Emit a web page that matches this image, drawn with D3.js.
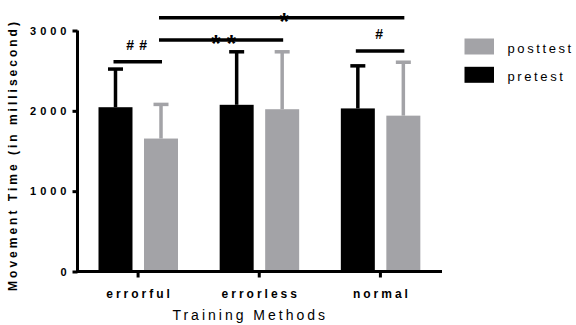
<!DOCTYPE html>
<html>
<head>
<meta charset="utf-8">
<script src="https://cdn.jsdelivr.net/npm/d3@7/dist/d3.min.js"></script>
<style>
  html, body { margin: 0; padding: 0; background: #fff; }
  svg { display: block; font-family: "Liberation Sans", Arial, sans-serif; }
</style>
</head>
<body>
<svg id="chart" width="576" height="325"></svg>
<script>
// ---- data ----
const categories = ["errorful", "errorless", "normal"];
const seriesNames = ["pretest", "posttest"];
const pretestMean = [2045, 2075, 2030];
const posttestMean = [1655, 2020, 1940];
const pretestSD = [475, 660, 530];
const posttestSD = [425, 715, 665];
const yTicks = [0, 1000, 2000, 3000];
const legendOrder = ["posttest", "pretest"];
// significance annotations: label, from [category, series], to [category, series], level (ms)
const sigLabels = ["##", "**", "*", "#"];
const sigFrom = [["errorful", "pretest"], ["errorful", "posttest"], ["errorful", "posttest"], ["normal", "pretest"]];
const sigTo = [["errorful", "posttest"], ["errorless", "posttest"], ["normal", "posttest"], ["normal", "posttest"]];
const sigLevel = [2610, 2883, 3160, 2745];

const colors = { pretest: "#000000", posttest: "#a3a3a7" };

const svg = d3.select("#chart");
const x0 = 77.5, x1 = 441, yBottom = 271.5, yTop = 30.5;

const x = d3.scaleBand().domain(categories).range([x0, x1]).paddingInner(0).paddingOuter(0);
const xs = d3.scaleBand().domain(seriesNames).range([21, 100.5]).paddingInner(0.253).paddingOuter(0);
const y = d3.scaleLinear().domain([0, 3000]).range([yBottom, yTop]);

const rows = [];
categories.forEach((c, i) => {
  rows.push({ cat: c, s: "pretest", mean: pretestMean[i], sd: pretestSD[i] });
  rows.push({ cat: c, s: "posttest", mean: posttestMean[i], sd: posttestSD[i] });
});
const cx = (c, s) => x(c) + xs(s) + xs.bandwidth() / 2;

// bars
svg.append("g").selectAll("rect").data(rows).join("rect")
  .attr("x", d => x(d.cat) + xs(d.s))
  .attr("y", d => y(d.mean))
  .attr("width", xs.bandwidth())
  .attr("height", d => y(0) - y(d.mean))
  .attr("fill", d => colors[d.s]);

// error bars (upper only)
const eb = svg.append("g").selectAll("g").data(rows).join("g")
  .attr("stroke", d => colors[d.s]);
eb.append("line")
  .attr("x1", d => cx(d.cat, d.s)).attr("x2", d => cx(d.cat, d.s))
  .attr("y1", d => y(d.mean)).attr("y2", d => y(d.mean + d.sd))
  .attr("stroke-width", 3.5);
eb.append("line")
  .attr("x1", d => cx(d.cat, d.s) - 7.5).attr("x2", d => cx(d.cat, d.s) + 7.5)
  .attr("y1", d => y(d.mean + d.sd)).attr("y2", d => y(d.mean + d.sd))
  .attr("stroke-width", 3.5);

// y axis
const yAxis = svg.append("g").attr("transform", `translate(${x0},0)`)
  .call(d3.axisLeft(y).tickValues(yTicks).tickSize(5).tickPadding(2).tickFormat(d3.format("d")));
yAxis.select(".domain").attr("d", `M0,${yBottom + 1.5}V${yTop}`).attr("stroke-width", 3);
yAxis.selectAll(".tick line").attr("stroke-width", 3);
yAxis.selectAll(".tick text")
  .attr("font-size", 11).attr("font-weight", "bold").attr("fill", "#000")
  .style("letter-spacing", "4px").attr("font-family", "Liberation Sans, Arial, sans-serif");

// x axis
const xAxis = svg.append("g").attr("transform", `translate(0,${yBottom})`)
  .call(d3.axisBottom(x).tickSize(6).tickPadding(12));
xAxis.select(".domain").attr("d", `M${x0 - 1.5},0H${x1 + 1}`).attr("stroke-width", 3);
xAxis.selectAll(".tick line").attr("stroke-width", 3);
xAxis.selectAll(".tick text")
  .attr("font-size", 12).attr("font-weight", "bold").attr("fill", "#000")
  .attr("dx", 1.5)
  .style("letter-spacing", "3px").attr("font-family", "Liberation Sans, Arial, sans-serif");

// axis titles
svg.append("text")
  .attr("x", (x0 + x1) / 2 - 9).attr("y", 320)
  .attr("text-anchor", "middle").attr("font-size", 14)
  .style("letter-spacing", "3px")
  .text("Training Methods");
svg.append("text")
  .attr("transform", `translate(17,${155}) rotate(-90)`)
  .attr("text-anchor", "middle").attr("font-size", 12).attr("font-weight", "bold")
  .style("letter-spacing", "3px")
  .text("Movement Time (in millisecond)");

// significance annotations
const sig = sigLabels.map((l, i) => ({
  label: l,
  xa: cx(sigFrom[i][0], sigFrom[i][1]),
  xb: cx(sigTo[i][0], sigTo[i][1]),
  level: sigLevel[i]
}));
const sg = svg.append("g").selectAll("g").data(sig).join("g");
sg.append("line")
  .attr("x1", d => d.xa - 2).attr("x2", d => d.xb + 1)
  .attr("y1", d => y(d.level)).attr("y2", d => y(d.level))
  .attr("stroke", "#000").attr("stroke-width", 3.5);
sg.each(function(d) {
  const g = d3.select(this);
  const chars = d.label.split("");
  const star = chars[0] === "*";
  const mid = (d.xa + d.xb) / 2 + (star ? 2 : -1.5);
  const gap = star ? 15.5 : 13;
  chars.forEach((ch, k) => {
    const px = mid + (k - (chars.length - 1) / 2) * gap;
    if (star) {
      g.append("text").attr("x", px).attr("y", y(d.level) + 12)
        .attr("text-anchor", "middle").attr("font-size", 24).attr("font-weight", "bold")
        .text(ch);
    } else {
      g.append("text").attr("x", px).attr("y", y(d.level) - 12)
        .attr("text-anchor", "middle").attr("font-size", 14).attr("font-weight", "bold")
        .text(ch);
    }
  });
});

// legend
const lg = svg.append("g").selectAll("g").data(legendOrder).join("g")
  .attr("transform", (d, i) => `translate(464.5,${38.5 + i * 28.3})`);
lg.append("rect").attr("width", 29.5).attr("height", 16).attr("fill", d => colors[d]);
lg.append("text").attr("x", 43).attr("y", 14.5)
  .attr("font-size", 13).style("letter-spacing", "2.6px").text(d => d);
</script>
</body>
</html>
